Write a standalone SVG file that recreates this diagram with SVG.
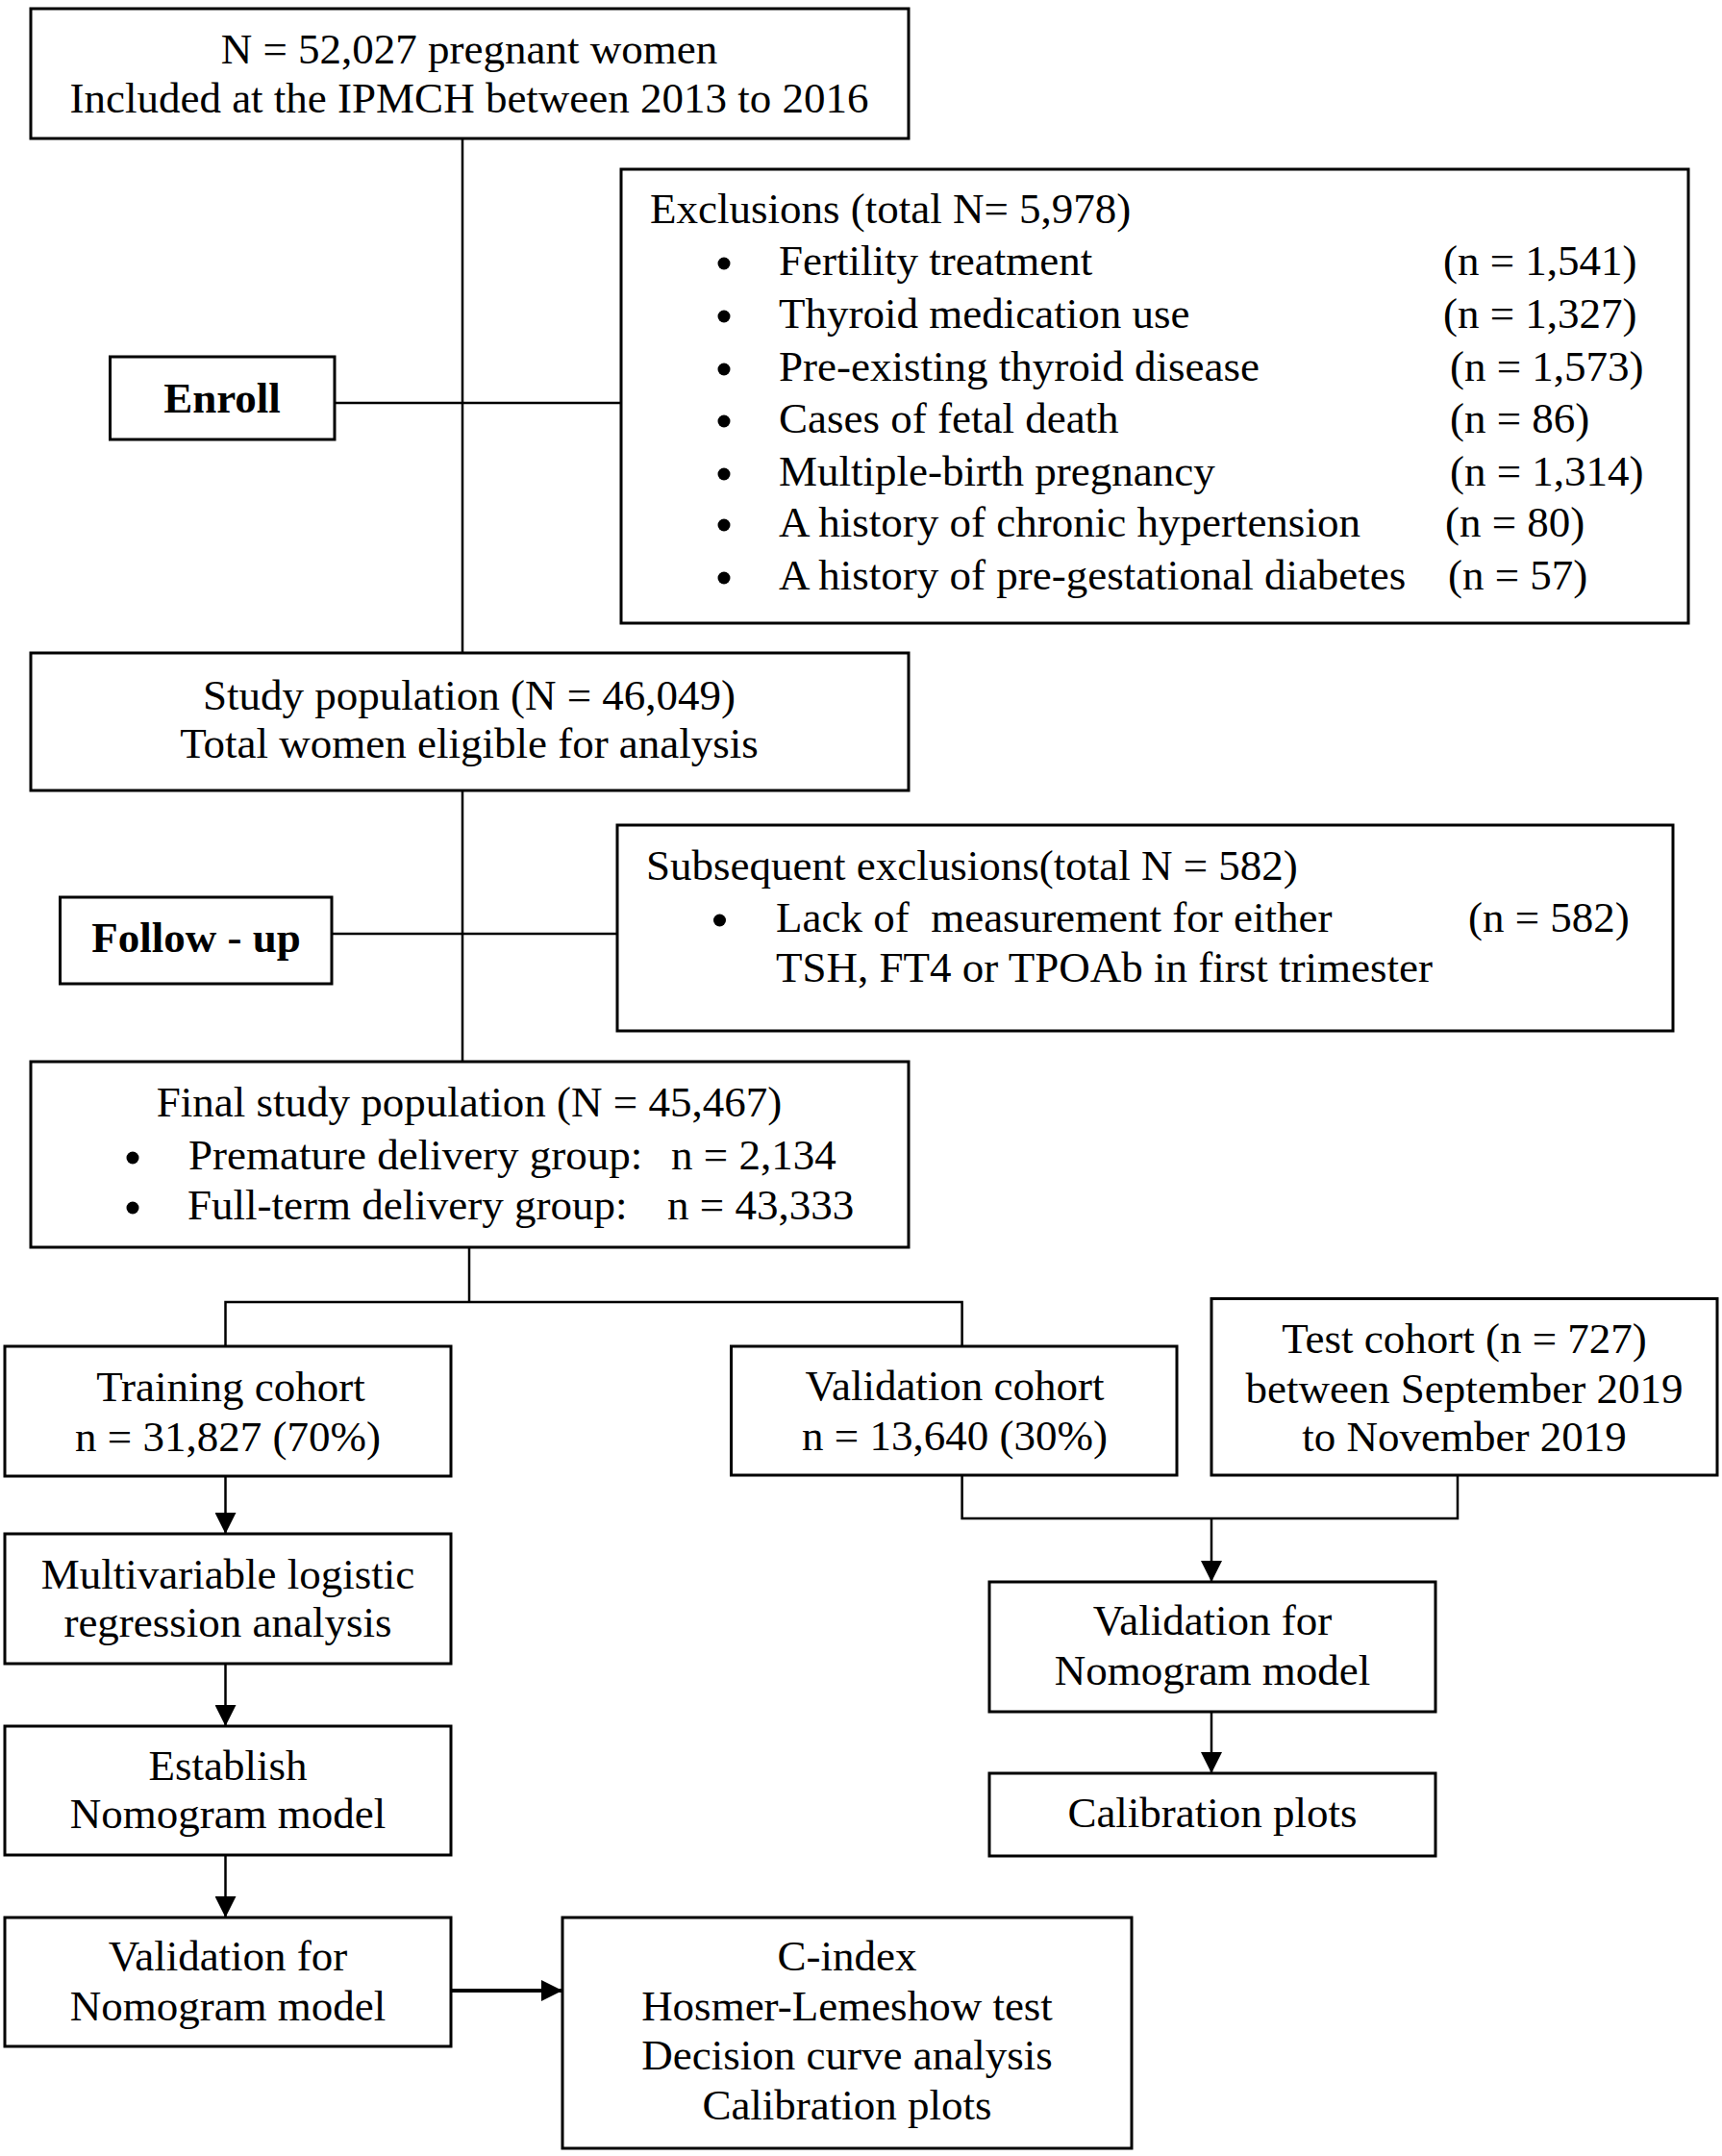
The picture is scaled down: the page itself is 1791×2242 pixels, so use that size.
<svg xmlns="http://www.w3.org/2000/svg" width="1791" height="2242" viewBox="0 0 1791 2242">
<defs>
<style>
.box{fill:#fff;stroke:#000;stroke-width:3}
.ln{fill:none;stroke:#000;stroke-width:2.5}
.t{font-family:"Liberation Serif","Times New Roman",serif;font-size:45px;fill:#000}
.c{text-anchor:middle}
.b{font-weight:bold}
.dot{fill:#000}
</style>
<marker id="ah" markerUnits="userSpaceOnUse" markerWidth="22" markerHeight="22" viewBox="0 0 22 22" refX="22" refY="11" orient="auto">
<path d="M0,0 L22,11 L0,22 z" fill="#000"/>
</marker>
</defs>
<rect width="1791" height="2242" fill="#fff"/>
<g id="connectors">
<path class="ln" d="M481,144 V679"/>
<path class="ln" d="M348,419 H646"/>
<path class="ln" d="M481,822 V1104"/>
<path class="ln" d="M345,971 H642"/>
<path class="ln" d="M488,1297 V1354"/>
<path class="ln" d="M234.5,1400 V1354 H1000.6 V1400"/>
<path class="ln" d="M234.5,1535 V1595" marker-end="url(#ah)"/>
<path class="ln" d="M234.5,1730 V1795" marker-end="url(#ah)"/>
<path class="ln" d="M234.5,1929 V1994" marker-end="url(#ah)"/>
<path class="ln" d="M469,2070 H585" style="stroke-width:4" marker-end="url(#ah)"/>
<path class="ln" d="M1000.6,1534 V1579 H1516 V1534"/>
<path class="ln" d="M1260,1579 V1645" marker-end="url(#ah)"/>
<path class="ln" d="M1260,1780 V1844" marker-end="url(#ah)"/>
</g>
<g id="n-total">
<rect class="box" x="32" y="9" width="913" height="135"/>
<text class="t c" x="488" y="66">N = 52,027 pregnant women</text>
<text class="t c" x="488" y="117">Included at the IPMCH between 2013 to 2016</text>
</g>
<g id="n-enroll">
<rect class="box" x="114.5" y="371" width="233.5" height="86"/>
<text class="t c b" x="231" y="429">Enroll</text>
</g>
<g id="n-exclusions">
<rect class="box" x="646" y="176" width="1110" height="472"/>
<text class="t" x="676" y="232">Exclusions (total N= 5,978)</text>
<g class="dot"><circle cx="753" cy="274" r="6.5"/><circle cx="753" cy="329" r="6.5"/><circle cx="753" cy="384" r="6.5"/><circle cx="753" cy="438" r="6.5"/><circle cx="753" cy="493" r="6.5"/><circle cx="753" cy="546" r="6.5"/><circle cx="753" cy="601" r="6.5"/></g>
<text class="t" x="810" y="286">Fertility treatment</text>
<text class="t" x="810" y="341">Thyroid medication use</text>
<text class="t" x="810" y="396">Pre-existing thyroid disease</text>
<text class="t" x="810" y="450">Cases of fetal death</text>
<text class="t" x="810" y="505">Multiple-birth pregnancy</text>
<text class="t" x="810" y="558">A history of chronic hypertension</text>
<text class="t" x="810" y="613">A history of pre-gestational diabetes</text>
<text class="t" x="1501" y="286">(n = 1,541)</text>
<text class="t" x="1501" y="341">(n = 1,327)</text>
<text class="t" x="1508" y="396">(n = 1,573)</text>
<text class="t" x="1508" y="450">(n = 86)</text>
<text class="t" x="1508" y="505">(n = 1,314)</text>
<text class="t" x="1503" y="558">(n = 80)</text>
<text class="t" x="1506" y="613">(n = 57)</text>
</g>
<g id="n-study">
<rect class="box" x="32" y="679" width="913" height="143"/>
<text class="t c" x="488" y="738">Study population (N = 46,049)</text>
<text class="t c" x="488" y="788">Total women eligible for analysis</text>
</g>
<g id="n-followup">
<rect class="box" x="62.5" y="933" width="282.5" height="90"/>
<text class="t c b" x="204" y="990">Follow - up</text>
</g>
<g id="n-subsequent">
<rect class="box" x="642" y="858" width="1098" height="214"/>
<text class="t" x="672" y="915">Subsequent exclusions(total N = 582)</text>
<circle class="dot" cx="748.5" cy="957" r="6.5"/>
<text class="t" x="807" y="969" xml:space="preserve">Lack of  measurement for either</text>
<text class="t" x="1527" y="969">(n = 582)</text>
<text class="t" x="807" y="1021">TSH, FT4 or TPOAb in first trimester</text>
</g>
<g id="n-final">
<rect class="box" x="32" y="1104" width="913" height="193"/>
<text class="t c" x="488" y="1161">Final study population (N = 45,467)</text>
<circle class="dot" cx="138" cy="1204" r="6.5"/>
<text class="t" x="196" y="1216">Premature delivery group:</text>
<text class="t" x="698" y="1216">n = 2,134</text>
<circle class="dot" cx="138" cy="1256" r="6.5"/>
<text class="t" x="195" y="1268">Full-term delivery group:</text>
<text class="t" x="694" y="1268">n = 43,333</text>
</g>
<g id="n-training">
<rect class="box" x="5" y="1400" width="464" height="135"/>
<text class="t c" x="240" y="1457">Training cohort</text>
<text class="t c" x="237" y="1509">n = 31,827 (70%)</text>
</g>
<g id="n-validation-cohort">
<rect class="box" x="760.5" y="1400" width="463.5" height="134"/>
<text class="t c" x="993" y="1456">Validation cohort</text>
<text class="t c" x="993" y="1508">n = 13,640 (30%)</text>
</g>
<g id="n-test">
<rect class="box" x="1260" y="1350.5" width="526" height="183.5"/>
<text class="t c" x="1523" y="1407">Test cohort (n = 727)</text>
<text class="t c" x="1523" y="1459">between September 2019</text>
<text class="t c" x="1523" y="1509">to November 2019</text>
</g>
<g id="n-multivariable">
<rect class="box" x="5" y="1595" width="464" height="135"/>
<text class="t c" x="237" y="1652">Multivariable logistic</text>
<text class="t c" x="237" y="1702">regression analysis</text>
</g>
<g id="n-establish">
<rect class="box" x="5" y="1795" width="464" height="134"/>
<text class="t c" x="237" y="1851">Establish</text>
<text class="t c" x="237" y="1901">Nomogram model</text>
</g>
<g id="n-validation-left">
<rect class="box" x="5" y="1994" width="464" height="134"/>
<text class="t c" x="237" y="2049">Validation for</text>
<text class="t c" x="237" y="2101">Nomogram model</text>
</g>
<g id="n-metrics">
<rect class="box" x="585" y="1994" width="592" height="240"/>
<text class="t c" x="881" y="2049">C-index</text>
<text class="t c" x="881" y="2101">Hosmer-Lemeshow test</text>
<text class="t c" x="881" y="2152">Decision curve analysis</text>
<text class="t c" x="881" y="2204">Calibration plots</text>
</g>
<g id="n-validation-right">
<rect class="box" x="1029" y="1645" width="464" height="135"/>
<text class="t c" x="1261" y="1700">Validation for</text>
<text class="t c" x="1261" y="1752">Nomogram model</text>
</g>
<g id="n-calibration">
<rect class="box" x="1029" y="1844" width="464" height="86"/>
<text class="t c" x="1261" y="1900">Calibration plots</text>
</g>
</svg>
